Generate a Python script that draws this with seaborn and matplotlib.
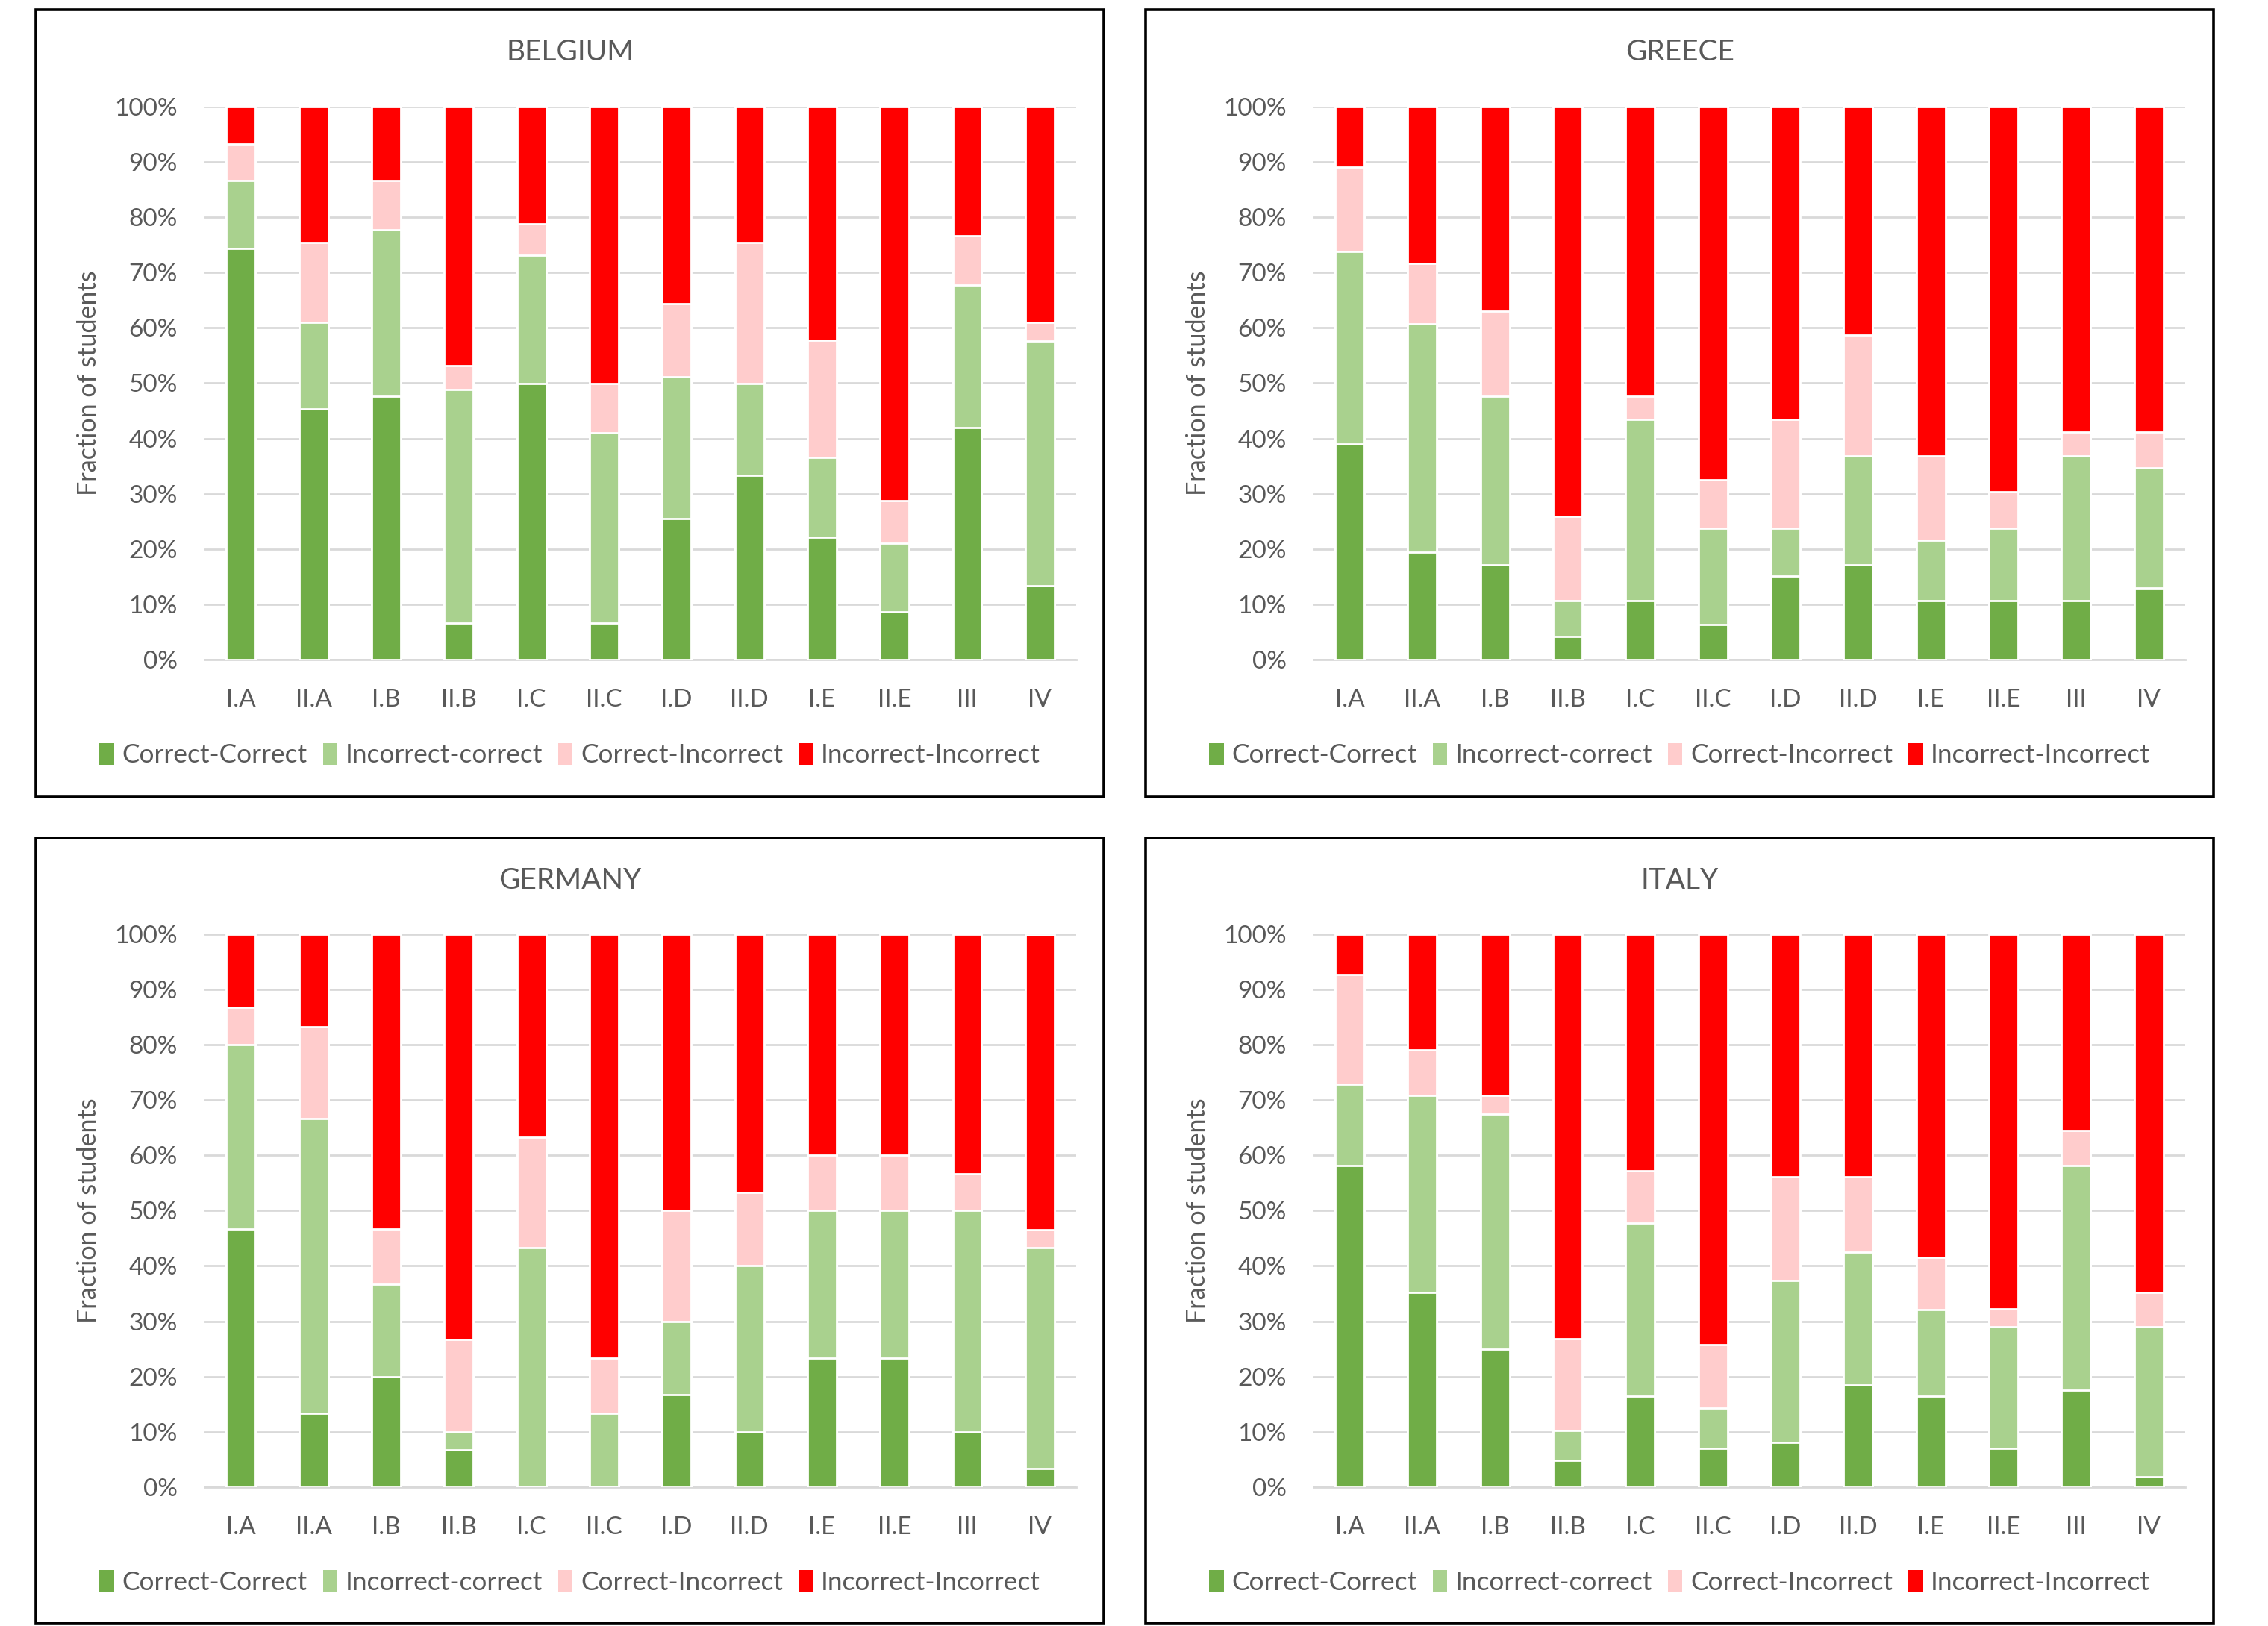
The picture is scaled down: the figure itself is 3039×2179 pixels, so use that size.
import numpy as np
import pandas as pd
import matplotlib
matplotlib.use("Agg")
import matplotlib.pyplot as plt
from matplotlib.patches import Patch, Rectangle
from matplotlib.ticker import PercentFormatter
import seaborn as sns

# question labels (x axis)
questions = ["I.A", "II.A", "I.B", "II.B", "I.C", "II.C", "I.D", "II.D", "I.E", "II.E", "III", "IV"]
outcomes = ["Correct-Correct", "Incorrect-correct", "Correct-Incorrect", "Incorrect-Incorrect"]

# percentages per outcome
belgium_cc = [74.3, 45.4, 47.7, 6.6, 49.9, 6.6, 25.5, 33.3, 22.1, 8.7, 42.0, 13.3]
belgium_ic = [12.3, 15.6, 30.0, 42.2, 23.3, 34.4, 25.6, 16.6, 14.5, 12.4, 25.7, 44.3]
belgium_ci = [6.7, 14.5, 8.9, 4.4, 5.6, 8.9, 13.3, 25.6, 21.1, 7.7, 8.9, 3.4]
belgium_ii = [6.7, 24.5, 13.4, 46.8, 21.2, 50.1, 35.6, 24.5, 42.3, 71.2, 23.4, 39.0]

greece_cc = [39.0, 19.4, 17.2, 4.2, 10.7, 6.4, 15.1, 17.2, 10.7, 10.7, 10.7, 12.9]
greece_ic = [34.8, 41.3, 30.5, 6.5, 32.7, 17.3, 8.6, 19.7, 10.9, 13.0, 26.2, 21.8]
greece_ci = [15.3, 10.9, 15.3, 15.2, 4.3, 8.8, 19.7, 21.8, 15.3, 6.6, 4.3, 6.5]
greece_ii = [10.9, 28.4, 37.0, 74.1, 52.3, 67.5, 56.6, 41.3, 63.1, 69.7, 58.8, 58.8]

germany_cc = [46.7, 13.3, 20.0, 6.7, 0.0, 0.0, 16.7, 10.0, 23.3, 23.3, 10.0, 3.3]
germany_ic = [33.3, 53.3, 16.7, 3.3, 43.3, 13.3, 13.3, 30.0, 26.7, 26.7, 40.0, 40.0]
germany_ci = [6.7, 16.7, 10.0, 16.7, 20.0, 10.0, 20.0, 13.3, 10.0, 10.0, 6.7, 3.3]
germany_ii = [13.3, 16.7, 53.3, 73.3, 36.7, 76.7, 50.0, 46.7, 40.0, 40.0, 43.3, 53.3]

italy_cc = [58.2, 35.2, 24.9, 4.9, 16.5, 7.0, 8.1, 18.5, 16.5, 7.0, 17.5, 1.9]
italy_ic = [14.6, 35.6, 42.6, 5.3, 31.2, 7.3, 29.3, 24.0, 15.6, 22.0, 40.7, 27.1]
italy_ci = [19.9, 8.3, 3.3, 16.6, 9.5, 11.5, 18.7, 13.6, 9.4, 3.2, 6.3, 6.2]
italy_ii = [7.3, 20.9, 29.2, 73.2, 42.8, 74.2, 43.9, 43.9, 58.5, 67.8, 35.5, 64.8]

colors = ["#70AD47", "#A9D18E", "#FFCCCC", "#FF0000"]
text_col = "#595959"

sns.set_theme(style="white")
plt.rcParams["font.family"] = ["Lato", "DejaVu Sans"]

fig = plt.figure(figsize=(3039 / 200, 2179 / 200), dpi=200)

panels = [
    ("BELGIUM", [belgium_cc, belgium_ic, belgium_ci, belgium_ii], 0),
    ("GREECE", [greece_cc, greece_ic, greece_ci, greece_ii], 1),
    ("GERMANY", [germany_cc, germany_ic, germany_ci, germany_ii], 2),
    ("ITALY", [italy_cc, italy_ic, italy_ci, italy_ii], 3),
]

for title, series, k in panels:
    col, row = k % 2, k // 2
    box_x0 = 0.0158 if col == 0 else 0.5051
    box_w = 0.471
    box_y0 = 0.510 if row == 0 else 0.0018
    box_h = 0.484 if row == 0 else 0.4828
    ax_x0 = 0.0902 if col == 0 else 0.5791
    ax_y0 = 0.5943 if row == 0 else 0.0854

    fig.patches.append(Rectangle((box_x0, box_y0), box_w, box_h, transform=fig.transFigure,
                                 fill=False, edgecolor="black", linewidth=1.3, zorder=0))

    ax = fig.add_axes([ax_x0, ax_y0, 0.3843, 0.3401])
    df = pd.DataFrame(dict(zip(outcomes, series)), index=questions)
    cum = df.cumsum(axis=1)
    # draw tallest stack first so the lower segments sit on top
    for name, c in zip(reversed(outcomes), reversed(colors)):
        sns.barplot(x=questions, y=cum[name].values, order=questions, color=c,
                    width=0.4, saturation=1, errorbar=None, ax=ax, zorder=3)

    ax.set_ylim(0, 100)
    ax.set_xlim(-0.5, len(questions) - 0.5)
    ax.set_yticks(np.arange(0, 101, 10))
    ax.yaxis.set_major_formatter(PercentFormatter(decimals=0))
    ax.grid(axis="y", color="#D9D9D9", linewidth=1.0, zorder=0)
    ax.set_axisbelow(True)
    for s in ["top", "right", "left"]:
        ax.spines[s].set_visible(False)
    ax.spines["bottom"].set_color("#D9D9D9")
    ax.spines["bottom"].set_linewidth(1.0)
    ax.tick_params(axis="both", length=0, labelsize=12, colors=text_col)
    ax.tick_params(axis="y", pad=13)
    ax.tick_params(axis="x", pad=14)
    ax.set_ylabel("Fraction of students", fontsize=12.3, color=text_col)
    ax.yaxis.set_label_coords(-0.119, 0.5)
    ax.set_xlabel("")

    cx = box_x0 + box_w / 2
    title_y = 0.9679 if row == 0 else 0.4585
    fig.text(cx, title_y, title, ha="center", va="center", fontsize=14, color=text_col)

    handles = [Patch(facecolor=c, edgecolor="none") for c in colors]
    leg_y = 0.5356 if row == 0 else 0.027
    fig.legend(handles, outcomes, loc="center", bbox_to_anchor=(cx, leg_y), ncol=4,
               frameon=False, fontsize=12.7, labelcolor=text_col, handlelength=0.55,
               handleheight=0.9, handletextpad=0.3, columnspacing=0.6)

fig.savefig("out.png", dpi=200, facecolor="white")
